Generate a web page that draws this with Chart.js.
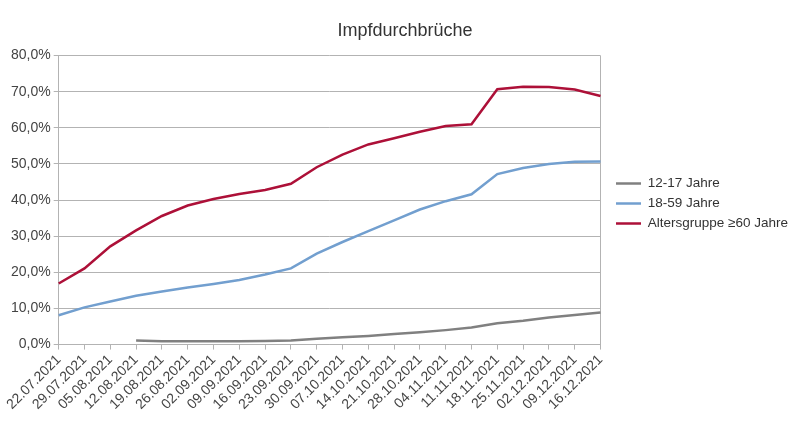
<!DOCTYPE html>
<html>
<head>
<meta charset="utf-8">
<script src="https://cdn.jsdelivr.net/npm/chart.js@4"></script>
<style>
  html, body { margin: 0; padding: 0; background: #fff; }
  #wrap { width: 810px; height: 436px; }
</style>
</head>
<body>
<div id="wrap"><canvas id="chart"></canvas></div>
<script>
const dates = ['22.07.2021', '29.07.2021', '05.08.2021', '12.08.2021', '19.08.2021', '26.08.2021',
  '02.09.2021', '09.09.2021', '16.09.2021', '23.09.2021', '30.09.2021', '07.10.2021', '14.10.2021',
  '21.10.2021', '28.10.2021', '04.11.2021', '11.11.2021', '18.11.2021', '25.11.2021', '02.12.2021',
  '09.12.2021', '16.12.2021'];

const teens = [null, null, null, 1.1, 0.9, 0.9, 0.9, 0.9, 1.0, 1.1, 1.6, 2.0, 2.4, 2.9, 3.4, 4.0,
  4.7, 5.9, 6.6, 7.5, 8.2, 8.9];
const adults = [8.1, 10.3, 11.9, 13.5, 14.7, 15.8, 16.8, 17.9, 19.4, 21.1, 25.2, 28.4, 31.4, 34.4,
  37.4, 39.7, 41.6, 47.2, 48.9, 50.0, 50.6, 50.7];
const seniors = [16.9, 21.1, 27.2, 31.6, 35.6, 38.5, 40.3, 41.7, 42.8, 44.5, 49.1, 52.6, 55.4, 57.1,
  58.9, 60.5, 61.0, 70.7, 71.4, 71.3, 70.6, 68.8];

const seriesNames = ['12-17 Jahre', '18-59 Jahre', 'Altersgruppe \u226560 Jahre'];
const seriesColors = ['#808080', '#729fcf', '#ad1038'];

const fontFamily = '"Liberation Sans", Arial, sans-serif';
const ctx = document.getElementById('chart');

// legend: a bit wider box, items nudged right and up, like the original
const legendTweak = {
  id: 'legendTweak',
  beforeLayout(chart) {
    const l = chart.legend;
    if (l && !l._widened) {
      const fit = l.fit;
      l.fit = function () { fit.call(this); this.width += 13; };
      l._widened = true;
    }
  },
  afterUpdate(chart) {
    const l = chart.legend;
    l.left += 9; l.right += 9;
    l.top -= 7; l.bottom -= 7;
  }
};

new Chart(ctx, {
  type: 'line',
  data: {
    labels: dates,
    datasets: [teens, adults, seniors].map((d, i) => ({
      label: seriesNames[i],
      data: d,
      borderColor: seriesColors[i],
      backgroundColor: seriesColors[i],
      borderWidth: 2.5,
      pointRadius: 0,
      tension: 0,
      spanGaps: false
    }))
  },
  options: {
    responsive: true,
    maintainAspectRatio: false,
    animation: false,
    layout: { padding: { left: 8, right: 8, top: 6, bottom: 21 } },
    plugins: {
      title: {
        display: true,
        text: 'Impfdurchbrüche',
        color: '#333',
        font: { family: fontFamily, size: 18, weight: 'normal' },
        padding: { top: 14, bottom: 14 }
      },
      legend: {
        position: 'right',
        labels: {
          color: '#333',
          font: { family: fontFamily, size: 13.5 },
          usePointStyle: true,
          pointStyle: 'line',
          pointStyleWidth: 25,
          padding: 6.5
        }
      },
      tooltip: { enabled: false }
    },
    scales: {
      x: {
        offset: false,
        grid: {
          drawOnChartArea: true,
          color: c => (c.index === dates.length - 1 ? '#b3b3b3' : 'rgba(0,0,0,0)'),
          tickColor: '#b3b3b3',
          tickLength: 5
        },
        border: { color: '#b3b3b3' },
        ticks: {
          color: '#444',
          font: { family: fontFamily, size: 14 },
          minRotation: 45,
          maxRotation: 45,
          autoSkip: false,
          padding: 2
        }
      },
      y: {
        min: 0,
        max: 80,
        grid: { color: '#b3b3b3', tickColor: '#b3b3b3', tickLength: 5 },
        border: { color: '#b3b3b3' },
        ticks: {
          stepSize: 10,
          color: '#444',
          font: { family: fontFamily, size: 14 },
          callback: v => v.toFixed(1).replace('.', ',') + '%'
        }
      }
    }
  },
  plugins: [legendTweak]
});
</script>
</body>
</html>
